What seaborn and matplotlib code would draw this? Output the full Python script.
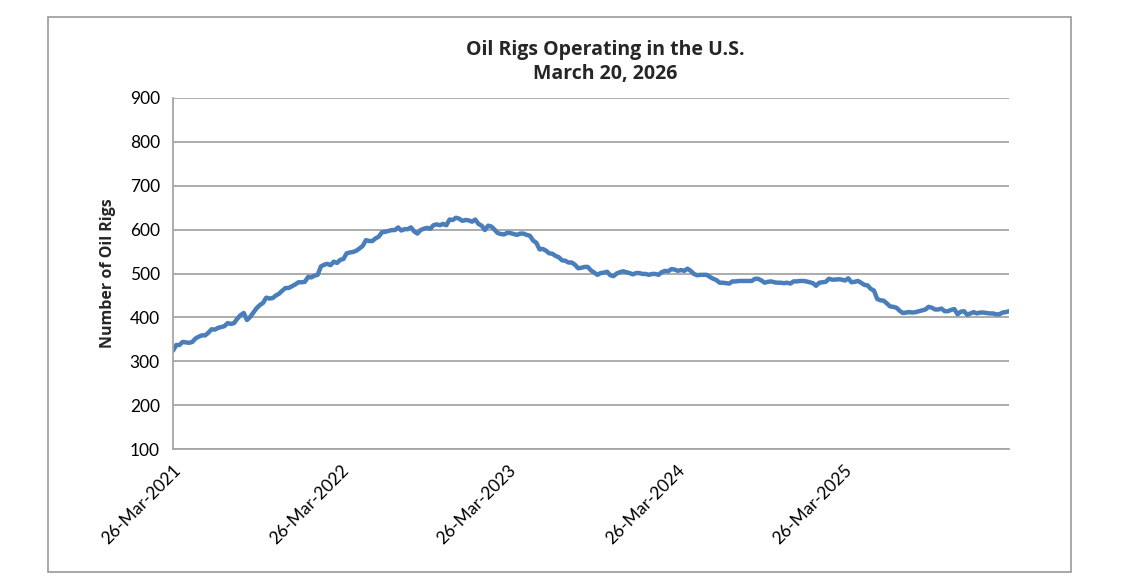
import matplotlib
matplotlib.use('Agg')
import matplotlib.pyplot as plt
import matplotlib.dates as mdates
from matplotlib.patches import Rectangle
import pandas as pd
import seaborn as sns

# weekly US oil rig counts (Fridays from 26-Mar-2021)
start_date = '2021-03-26'
rigs_2021 = [324, 337, 337, 344, 343, 342, 344, 352, 356, 359,
             359, 365, 373, 372, 376, 378, 380, 387, 385, 387,
             397, 405, 410, 394, 401, 411, 421, 428, 433, 445,
             443, 444, 450, 454, 461, 467, 467, 471, 475, 480, 480]
rigs_2022 = [481, 492, 491, 495, 497, 516, 520, 522, 519, 527,
             524, 531, 533, 546, 548, 549, 552, 557, 563, 576,
             574, 574, 580, 584, 594, 595, 597, 599, 599, 605,
             598, 601, 601, 605, 596, 591, 599, 602, 604, 602,
             610, 612, 610, 613, 610, 623, 622, 627, 625, 620, 622, 621]
rigs_2023 = [618, 623, 613, 609, 599, 609, 607, 600, 592, 590,
             589, 593, 592, 590, 588, 591, 591, 588, 586, 575,
             570, 555, 556, 552, 546, 545, 540, 537, 530, 529,
             525, 525, 520, 512, 513, 515, 515, 507, 502, 497,
             501, 502, 504, 496, 494, 500, 503, 505, 503, 501, 498, 501]
rigs_2024 = [501, 499, 499, 497, 499, 499, 497, 503, 506, 505,
             510, 509, 506, 508, 506, 511, 506, 499, 496, 497,
             497, 497, 492, 488, 485, 479, 479, 478, 477, 482,
             482, 483, 483, 483, 483, 483, 488, 488, 484, 479,
             481, 482, 480, 479, 479, 478, 479, 477, 482, 482, 483, 483]
rigs_2025 = [482, 480, 478, 472, 479, 480, 481, 488, 486, 486,
             487, 486, 484, 489, 480, 481, 483, 479, 474, 473,
             465, 461, 442, 439, 438, 432, 425, 424, 422, 415,
             410, 411, 412, 411, 412, 414, 416, 418, 424, 422,
             418, 418, 420, 414, 414, 417, 419, 407, 413, 414, 406, 409]
rigs_2026 = [412, 409, 411, 411, 410, 409, 409, 407, 407, 411, 412, 414]

rigs = rigs_2021 + rigs_2022 + rigs_2023 + rigs_2024 + rigs_2025 + rigs_2026
dates = pd.date_range(start_date, periods=len(rigs), freq='7D')
df = pd.DataFrame({'date': dates, 'rigs': rigs})

tick_dates = pd.to_datetime(['2021-03-26', '2022-03-26', '2023-03-26',
                             '2024-03-26', '2025-03-26'])

sns.set_style('white')
plt.rcParams['font.family'] = ['Lato', 'DejaVu Sans']
bold_font = ['Open Sans', 'DejaVu Sans']

fig = plt.figure(figsize=(11.32, 5.84), dpi=100)
ax = fig.add_axes([173 / 1132, 1 - 449 / 584, (1009 - 173) / 1132, (449 - 98) / 584])

grey = '#a6a6a6'
sns.lineplot(data=df, x='date', y='rigs', ax=ax, color='#4a7ebb', linewidth=3.2)

ax.set_xlim(dates[0], dates[-1])
ax.set_ylim(100, 900)
ax.set_yticks(range(100, 1000, 100))
ax.yaxis.grid(True, color=grey, linewidth=1.3)
ax.set_axisbelow(True)
ax.set_xticks(tick_dates)
ax.xaxis.set_major_formatter(mdates.DateFormatter('%d-%b-%Y'))

for side in ['top', 'right']:
    ax.spines[side].set_visible(False)
for side in ['left', 'bottom']:
    ax.spines[side].set_color(grey)
    ax.spines[side].set_linewidth(1.3)

ax.tick_params(axis='both', which='major', direction='out', length=6,
               width=1.3, color=grey, labelsize=12.5, labelcolor='black')
plt.setp(ax.get_xticklabels(), rotation=45, ha='right', rotation_mode='anchor')

ax.set_xlabel('')
ax.set_ylabel('Number of Oil Rigs', fontsize=11.5, fontweight='bold',
              family=bold_font, labelpad=10)

fig.text(605 / 1132, 1 - 62 / 584, 'Oil Rigs Operating in the U.S.\nMarch 20, 2026',
         ha='center', va='center', fontsize=14, fontweight='bold',
         family=bold_font, linespacing=1.3)

fig.patches.append(Rectangle((48 / 1132, 1 - 572 / 584), (1071 - 48) / 1132, (572 - 17) / 584,
                             transform=fig.transFigure, fill=False,
                             edgecolor='#9a9a9a', linewidth=1.2))

fig.savefig('out.png', dpi=100)
